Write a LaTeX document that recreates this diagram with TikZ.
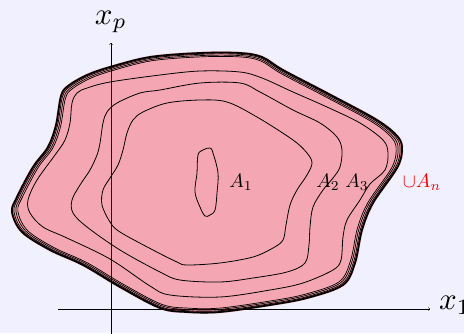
\documentclass[tikz,border=0pt]{standalone}
\usepackage{amssymb}
\definecolor{bgcol}{RGB}{240,240,255}
\newcommand{\blobpath}{plot[smooth cycle,tension=0.55] coordinates {(61,96) (68,86) (87,75) (110,67) (150,57) (200,53) (240,53) (262,57) (283,70) (327,93) (377,120) (398,137) (402,150) (397,168) (373,203) (362,230) (355,263) (343,285) (307,298) (270,305) (220,312) (187,312) (160,308) (120,287) (83,265) (50,250) (22,232) (12,212) (17,197) (33,167) (48,147) (56,125)}}
\tikzset{
  contour/.style={draw=black, line width=0.8pt},
  setlabel/.style={scale=1.95},
  axislabel/.style={scale=3.1}
}
\begin{document}
\begin{tikzpicture}[x=1pt,y=-1pt]
  \fill[bgcol] (0,0) rectangle (464,333);
  \useasboundingbox (0,0) rectangle (464,333);
  \coordinate (xs) at (58,309); \coordinate (xe) at (430,309);
  \coordinate (ps) at (111,340); \coordinate (pe) at (111,43);
  \draw[->] (xs) -- (xe); \draw[->] (ps) -- (pe);
  \node[axislabel] (X1) at (455,305) {$x_1$};
  \node[axislabel] (XP) at (111,22) {$x_p$};
  \fill[red, fill opacity=0.3, draw=red, draw opacity=0.25, line width=2.5pt] \blobpath;
  \foreach \s/\w in {1/1.8pt,0.99/0.7pt,0.98/0.7pt,0.97/0.7pt}
    \draw[line width=\w, scale around={\s:(207,182)}] \blobpath;
  \draw[contour] plot[smooth cycle,tension=0.55] coordinates {(70,123) (72,103) (77,93) (87,88) (110,82) (160,75) (200,71) (240,72) (262,78) (293,92) (327,107) (360,123) (383,140) (388,153) (385,170) (370,184) (360,200) (347,220) (343,237) (341,260) (333,270) (303,283) (270,290) (220,297) (170,295) (150,286) (110,259) (67,238) (43,227) (30,213) (28,200) (37,180) (55,155) (65,140)};
  \draw[contour] plot[smooth cycle,tension=0.55] coordinates {(100,143) (103,123) (107,112) (117,103) (140,93) (160,90) (200,83) (240,83) (260,92) (293,110) (320,123) (337,137) (342,150) (340,167) (333,178) (323,190) (313,207) (310,227) (309,245) (305,263) (287,272) (253,278) (220,282) (180,280) (160,272) (120,250) (87,227) (73,213) (72,200) (80,185) (90,170) (97,155)};
  \draw[contour] plot[smooth cycle,tension=0.55] coordinates {(127,133) (133,120) (143,112) (167,103) (200,100) (227,102) (257,117) (293,140) (307,153) (312,163) (307,175) (297,190) (290,205) (286,225) (283,240) (273,248) (253,257) (220,263) (187,265) (177,262) (153,250) (120,232) (110,222) (102,205) (103,190) (110,178) (118,165) (123,150)};
  \draw[contour] plot[smooth cycle,tension=0.6] coordinates {(203,150) (210,148) (213,153) (218,173) (217,193) (215,210) (210,215) (205,216) (200,207) (195,192) (197,173) (198,155)};
  \node[setlabel] (A1) at (241,182) {$A_1$};
  \node[setlabel] (A2) at (328,182) {$A_2$};
  \node[setlabel] (A3) at (357,182) {$A_3$};
  \node[setlabel, red] (An) at (422,182) {$\cup A_n$};
\end{tikzpicture}
\end{document}
